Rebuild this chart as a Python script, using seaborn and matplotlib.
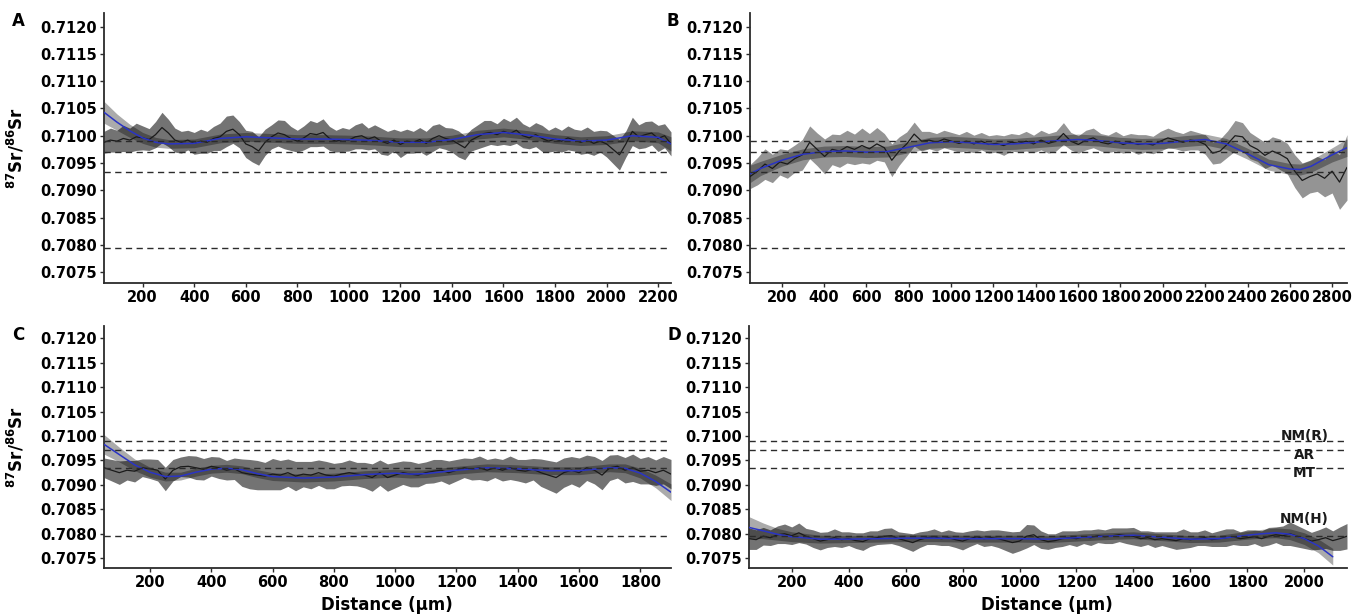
import numpy as np
import matplotlib
matplotlib.use("Agg")
import matplotlib.pyplot as plt
import seaborn as sns

# ---------------------------------------------------------------------------
# Reference end-member ratios (dashed lines) and their names
REF_LEVELS = [0.70990, 0.70971, 0.70934, 0.70795]
REF_NAMES = ["NM(R)", "AR", "MT", "NM(H)"]

Y_TICKS = [0.7075, 0.7080, 0.7085, 0.7090, 0.7095, 0.7100, 0.7105, 0.7110, 0.7115, 0.7120]

# ---------------------------------------------------------------------------
# Panel A: laser transect, 50-2250 um
A_RANGE = (50, 2250)
A_SR = [
    0.70988, 0.70992, 0.70990, 0.70995, 0.70992, 0.70998, 0.70996, 0.70993, 0.71002, 0.71015,
    0.71005, 0.70992, 0.70988, 0.70992, 0.70986, 0.70990, 0.70988, 0.70995, 0.70998, 0.71008,
    0.71012, 0.71002, 0.70985, 0.70980, 0.70972, 0.70988, 0.70998, 0.71005, 0.71002, 0.70995,
    0.70990, 0.70996, 0.71004, 0.71002, 0.71006, 0.70995, 0.70990, 0.70993, 0.70992, 0.70998,
    0.71000, 0.70994, 0.70998, 0.70990, 0.70986, 0.70992, 0.70984, 0.70990, 0.70988, 0.70993,
    0.70986, 0.70995, 0.71000, 0.70995, 0.70992, 0.70985, 0.70978, 0.70992, 0.70998, 0.71004,
    0.71006, 0.71002, 0.71008, 0.71004, 0.71010, 0.71000, 0.70996, 0.71002, 0.70995, 0.70990,
    0.70994, 0.70990, 0.70996, 0.70992, 0.70988, 0.70992, 0.70986, 0.70990, 0.70985, 0.70975,
    0.70965, 0.70985, 0.71008, 0.70998, 0.71002, 0.71005, 0.70995, 0.71000, 0.70985,
]
# 2SE half-widths, in units of 1e-5
A_2SE = [
    20, 22, 20, 24, 22, 25, 22, 20, 24, 28,
    25, 22, 20, 18, 20, 22, 20, 22, 25, 28,
    26, 24, 25, 28, 26, 24, 22, 24, 26, 22,
    20, 22, 24, 22, 25, 22, 20, 22, 20, 22,
    24, 20, 22, 24, 22, 20, 24, 22, 20, 22,
    22, 24, 22, 20, 22, 24, 22, 20, 22, 24,
    22, 20, 24, 22, 24, 22, 20, 22, 24, 20,
    22, 20, 22, 20, 22, 24, 22, 20, 24, 26,
    28, 24, 26, 22, 24, 22, 24, 22, 22,
]
A_FIT_D = [50, 100, 150, 200, 250, 300, 400, 500, 600, 700,
           800, 900, 1000, 1100, 1200, 1300, 1400, 1500, 1600, 1700,
           1800, 1900, 2000, 2100, 2200, 2250]
A_FIT = [0.71043, 0.71025, 0.71009, 0.70996, 0.70988, 0.70985, 0.70986, 0.70995, 0.70998, 0.70996,
         0.70994, 0.70994, 0.70993, 0.70991, 0.70988, 0.70988, 0.70993, 0.71002, 0.71006, 0.71001,
         0.70994, 0.70990, 0.70992, 0.71000, 0.70997, 0.70985]
A_FIT_CI = [20, 15, 12, 10, 9, 8, 8, 8, 8, 8,
            8, 8, 8, 8, 8, 8, 8, 8, 8, 8,
            8, 8, 8, 9, 10, 13]
A_XTICKS = [200, 400, 600, 800, 1000, 1200, 1400, 1600, 1800, 2000, 2200]

# ---------------------------------------------------------------------------
# Panel B: laser transect, 50-2870 um
B_RANGE = (50, 2870)
B_SR = [
    0.70925, 0.70935, 0.70948, 0.70940, 0.70952, 0.70948, 0.70958, 0.70965, 0.70988, 0.70975,
    0.70962, 0.70975, 0.70972, 0.70980, 0.70975, 0.70982, 0.70976, 0.70985, 0.70978, 0.70955,
    0.70972, 0.70985, 0.71003, 0.70990, 0.70992, 0.70988, 0.70994, 0.70990, 0.70986, 0.70990,
    0.70985, 0.70990, 0.70984, 0.70986, 0.70982, 0.70988, 0.70986, 0.70990, 0.70985, 0.70992,
    0.70986, 0.70990, 0.71004, 0.70990, 0.70984, 0.70992, 0.70996, 0.70988, 0.70985, 0.70990,
    0.70984, 0.70988, 0.70984, 0.70986, 0.70983, 0.70990, 0.70996, 0.70992, 0.70988, 0.70992,
    0.70990, 0.70984, 0.70968, 0.70972, 0.70985, 0.71000, 0.70998, 0.70982, 0.70975, 0.70964,
    0.70972, 0.70966, 0.70958, 0.70935, 0.70918, 0.70925, 0.70930, 0.70922, 0.70935, 0.70915,
    0.70942,
]
B_2SE = [
    22, 25, 28, 26, 24, 26, 25, 28, 30, 30,
    32, 28, 30, 30, 28, 32, 28, 30, 26, 30,
    26, 22, 22, 18, 16, 16, 16, 16, 16, 18,
    16, 16, 16, 16, 18, 16, 16, 18, 16, 18,
    18, 18, 20, 16, 16, 18, 18, 16, 16, 18,
    16, 16, 18, 16, 16, 18, 18, 16, 16, 18,
    16, 18, 20, 22, 24, 28, 26, 24, 22, 24,
    26, 28, 28, 30, 32, 30, 32, 34, 40, 50,
    60,
]
B_FIT_D = [50, 100, 200, 300, 400, 500, 600, 700, 800, 900,
           1000, 1100, 1200, 1300, 1400, 1500, 1600, 1700, 1800, 1900,
           2000, 2100, 2200, 2300, 2400, 2500, 2600, 2650, 2700, 2800,
           2870]
B_FIT = [0.70930, 0.70940, 0.70955, 0.70966, 0.70971, 0.70972, 0.70970, 0.70971, 0.70979, 0.70987,
         0.70989, 0.70987, 0.70984, 0.70985, 0.70988, 0.70991, 0.70993, 0.70991, 0.70987, 0.70985,
         0.70986, 0.70990, 0.70993, 0.70985, 0.70967, 0.70947, 0.70939, 0.70938, 0.70944, 0.70965,
         0.70978]
B_FIT_CI = [16, 13, 11, 10, 10, 10, 10, 10, 10, 10,
            10, 10, 10, 10, 10, 10, 10, 10, 10, 10,
            10, 10, 10, 10, 10, 10, 10, 10, 11, 13,
            16]
B_XTICKS = [200, 400, 600, 800, 1000, 1200, 1400, 1600, 1800, 2000, 2200, 2400, 2600, 2800]

# ---------------------------------------------------------------------------
# Panel C: laser transect, 50-1900 um
C_RANGE = (50, 1900)
C_SR = [
    0.70935, 0.70930, 0.70925, 0.70930, 0.70928, 0.70935, 0.70933, 0.70930, 0.70912, 0.70930,
    0.70937, 0.70938, 0.70935, 0.70932, 0.70938, 0.70935, 0.70930, 0.70933, 0.70925, 0.70922,
    0.70920, 0.70918, 0.70922, 0.70920, 0.70925, 0.70918, 0.70922, 0.70920, 0.70925, 0.70920,
    0.70918, 0.70922, 0.70925, 0.70922, 0.70920, 0.70915, 0.70925, 0.70915, 0.70920, 0.70925,
    0.70922, 0.70920, 0.70925, 0.70928, 0.70930, 0.70925, 0.70930, 0.70935, 0.70932, 0.70935,
    0.70930, 0.70935, 0.70930, 0.70935, 0.70930, 0.70928, 0.70932, 0.70925, 0.70920, 0.70915,
    0.70925, 0.70930, 0.70925, 0.70935, 0.70930, 0.70920, 0.70935, 0.70938, 0.70930, 0.70935,
    0.70928, 0.70930, 0.70925, 0.70930, 0.70922,
]
C_2SE = [
    20, 22, 24, 20, 22, 18, 20, 22, 24, 22,
    20, 22, 24, 22, 20, 22, 20, 22, 28, 30,
    30, 28, 32, 30, 28, 30, 26, 28, 26, 28,
    26, 24, 26, 24, 26, 28, 26, 28, 26, 24,
    26, 24, 22, 24, 22, 24, 22, 20, 22, 24,
    22, 20, 22, 24, 22, 24, 22, 28, 30, 32,
    30, 28, 30, 26, 28, 30, 26, 24, 26, 28,
    26, 28, 26, 28, 30,
]
C_FIT_D = [50, 100, 150, 200, 250, 300, 350, 400, 450, 500,
           550, 600, 700, 800, 900, 1000, 1050, 1100, 1200, 1300,
           1400, 1500, 1600, 1700, 1750, 1800, 1850, 1900]
C_FIT = [0.70983, 0.70962, 0.70941, 0.70926, 0.70917, 0.70918, 0.70926, 0.70932, 0.70934, 0.70931,
         0.70923, 0.70917, 0.70914, 0.70916, 0.70921, 0.70924, 0.70922, 0.70923, 0.70930, 0.70935,
         0.70933, 0.70929, 0.70929, 0.70935, 0.70934, 0.70924, 0.70907, 0.70885]
C_FIT_CI = [20, 15, 12, 10, 9, 8, 8, 8, 8, 8,
            8, 8, 8, 8, 8, 8, 8, 8, 8, 8,
            8, 8, 8, 8, 9, 10, 13, 17]
C_XTICKS = [200, 400, 600, 800, 1000, 1200, 1400, 1600, 1800]

# ---------------------------------------------------------------------------
# Panel D: laser transect, 50-2150 um
D_RANGE = (50, 2150)
D_SR = [
    0.70790, 0.70788, 0.70795, 0.70792, 0.70798, 0.70800, 0.70796, 0.70802, 0.70795, 0.70790,
    0.70785, 0.70788, 0.70792, 0.70788, 0.70790, 0.70786, 0.70784, 0.70790, 0.70792, 0.70795,
    0.70796, 0.70790, 0.70786, 0.70782, 0.70788, 0.70792, 0.70794, 0.70790, 0.70792, 0.70788,
    0.70785, 0.70790, 0.70794, 0.70790, 0.70792, 0.70790, 0.70786, 0.70782, 0.70785, 0.70795,
    0.70798, 0.70788, 0.70784, 0.70786, 0.70790, 0.70792, 0.70790, 0.70794, 0.70792, 0.70796,
    0.70794, 0.70796, 0.70798, 0.70796, 0.70795, 0.70790, 0.70792, 0.70788, 0.70790, 0.70788,
    0.70786, 0.70790, 0.70788, 0.70790, 0.70792, 0.70788, 0.70790, 0.70792, 0.70794, 0.70790,
    0.70792, 0.70794, 0.70790, 0.70795, 0.70798, 0.70796, 0.70800, 0.70795, 0.70790, 0.70785,
    0.70788, 0.70792, 0.70786, 0.70790, 0.70795,
]
D_2SE = [
    22, 20, 18, 16, 18, 20, 18, 20, 16, 18,
    18, 16, 18, 16, 14, 16, 18, 16, 14, 16,
    16, 14, 16, 18, 16, 14, 16, 14, 16, 16,
    18, 16, 14, 16, 16, 18, 20, 22, 20, 24,
    20, 18, 16, 14, 16, 14, 16, 14, 16, 14,
    14, 16, 14, 16, 18, 16, 14, 16, 14, 16,
    18, 20, 16, 14, 16, 14, 16, 18, 16, 14,
    16, 14, 16, 18, 16, 20, 24, 22, 20, 18,
    20, 22, 20, 24, 26,
]
D_FIT_D = [50, 100, 150, 200, 300, 400, 500, 600, 700, 800,
           900, 1000, 1100, 1200, 1300, 1400, 1500, 1600, 1700, 1800,
           1850, 1900, 1950, 2000, 2050, 2100]
D_FIT = [0.70813, 0.70806, 0.70799, 0.70794, 0.70789, 0.70789, 0.70790, 0.70791, 0.70791, 0.70790,
         0.70790, 0.70790, 0.70789, 0.70792, 0.70795, 0.70797, 0.70793, 0.70789, 0.70790, 0.70797,
         0.70800, 0.70802, 0.70799, 0.70790, 0.70775, 0.70753]
D_FIT_CI = [22, 16, 12, 10, 8, 7, 7, 7, 7, 7,
            7, 7, 7, 7, 7, 7, 7, 7, 7, 8,
            9, 10, 11, 12, 14, 17]
D_XTICKS = [200, 400, 600, 800, 1000, 1200, 1400, 1600, 1800, 2000]

# ---------------------------------------------------------------------------
sns.set_theme(style="ticks")
plt.rcParams["font.family"] = ["DejaVu Sans"]
plt.rcParams["font.weight"] = "bold"
plt.rcParams["mathtext.fontset"] = "dejavusans"

W, H = 1356, 615
fig = plt.figure(figsize=(W / 100, H / 100), dpi=100)


def add_axes_px(left, top, right, bottom):
    return fig.add_axes([left / W, 1 - bottom / H, (right - left) / W, (bottom - top) / H])


AXIS_COLOR = "#2b2b2b"
LINE_COLOR = "#1a1a1a"
FIT_COLOR = "#2a34c6"


def draw_panel(ax, drange, sr, se2, fit_d, fit, fit_ci, xticks, ribbon_alpha):
    sr = np.asarray(sr)
    se2 = np.asarray(se2) * 1e-5
    dist = np.linspace(drange[0], drange[1], len(sr))
    fit_d = np.asarray(fit_d, dtype=float)
    fit = np.asarray(fit)
    fit_ci = np.asarray(fit_ci) * 1e-5

    # 2SE envelope of the measurements
    ax.fill_between(dist, sr - se2, sr + se2, color="black", alpha=ribbon_alpha,
                    lw=0, zorder=1)
    # confidence band of the smoothed trend
    ax.fill_between(fit_d, fit - fit_ci, fit + fit_ci, color="black", alpha=0.33,
                    lw=0, zorder=2)
    sns.lineplot(x=dist, y=sr, ax=ax, color=LINE_COLOR, lw=0.9,
                 estimator=None, sort=False, zorder=3)
    sns.lineplot(x=fit_d, y=fit, ax=ax, color=FIT_COLOR, lw=1.1,
                 estimator=None, sort=False, zorder=4)
    for lv in REF_LEVELS:
        ax.axhline(lv, color=AXIS_COLOR, lw=1.0, dashes=(4.5, 3.2), zorder=5)

    ax.set_xlim(drange[0], drange[1])
    ax.set_ylim(0.70730, 0.71225)
    ax.set_yticks(Y_TICKS)
    ax.set_yticklabels([f"{t:.4f}" for t in Y_TICKS])
    ax.set_xticks(xticks)
    ax.set_xticklabels([str(t) for t in xticks])
    ax.set_xlabel("")
    ax.set_ylabel("")
    for side in ("top", "right"):
        ax.spines[side].set_visible(False)
    for side in ("left", "bottom"):
        ax.spines[side].set_color(AXIS_COLOR)
        ax.spines[side].set_linewidth(1.3)
    ax.tick_params(axis="both", length=3.2, width=1.0, color=AXIS_COLOR,
                   labelsize=10.5, labelcolor="black", pad=2)
    for lab in ax.get_xticklabels() + ax.get_yticklabels():
        lab.set_fontweight("bold")


ax_a = add_axes_px(104, 13, 671, 283)
ax_b = add_axes_px(750, 13, 1347, 283)
ax_c = add_axes_px(104, 326, 671, 568)
ax_d = add_axes_px(749, 326, 1347, 568)

draw_panel(ax_a, A_RANGE, A_SR, A_2SE, A_FIT_D, A_FIT, A_FIT_CI, A_XTICKS, 0.55)
draw_panel(ax_b, B_RANGE, B_SR, B_2SE, B_FIT_D, B_FIT, B_FIT_CI, B_XTICKS, 0.42)
draw_panel(ax_c, C_RANGE, C_SR, C_2SE, C_FIT_D, C_FIT, C_FIT_CI, C_XTICKS, 0.55)
draw_panel(ax_d, D_RANGE, D_SR, D_2SE, D_FIT_D, D_FIT, D_FIT_CI, D_XTICKS, 0.55)

# End-member names next to their dashed lines
label_offsets = [0.00009, -0.00010, -0.00010, 0.00035]
for name, lv, off in zip(REF_NAMES, REF_LEVELS, label_offsets):
    ax_d.text(2000, lv + off, name, ha="center", va="center", fontsize=9.8,
              fontweight="bold", color="#1a1a1a", zorder=6)

# Axis titles
ylab = r"$\mathbf{{}^{87}Sr/{}^{86}Sr}$"
for ax in (ax_a, ax_c):
    ax.set_ylabel(ylab, fontsize=12, color="black")
    ax.yaxis.set_label_coords(-0.137, 0.5)
fig.text(387 / W, 1 - 605 / H, "Distance (\u03bcm)", ha="center", va="center",
         fontsize=12, fontweight="bold", color="black")
fig.text(1047 / W, 1 - 605 / H, "Distance (\u03bcm)", ha="center", va="center",
         fontsize=12, fontweight="bold", color="black")

# Panel letters
for letter, (px, py) in zip("ABCD", [(18, 21), (673, 21), (18, 335), (674, 335)]):
    fig.text(px / W, 1 - py / H, letter, ha="center", va="center",
             fontsize=12, fontweight="bold", color="black")

fig.savefig("out.png", dpi=100)
